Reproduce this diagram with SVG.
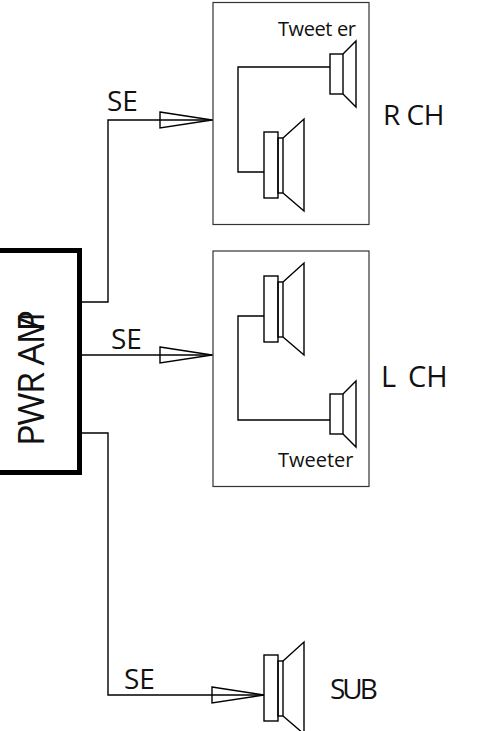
<svg xmlns="http://www.w3.org/2000/svg" xmlns:xlink="http://www.w3.org/1999/xlink" width="493" height="731" viewBox="0 0 493 731">
<style>
.l{fill:none;stroke:#000;stroke-width:1.4;stroke-linejoin:miter}
.b{fill:none;stroke:#333;stroke-width:1.2}
text{font-family:"Open Sans","Noto Sans","Liberation Sans",sans-serif;fill:#111}
.t{font-size:28px}
.s{font-size:20px}
</style>
<defs>
<g id="woofer" class="l"><rect x="264" y="-33" width="14" height="66"/><rect x="278" y="-27" width="5" height="55"/><path d="M283-27 304-46V46L283 28"/></g>
<g id="tweeter" class="l"><rect x="330" y="-20" width="13" height="40"/><path d="M343-20 356-33V33L343 20"/></g>
<path id="arrow" class="l" d="M0-8 52 0 0 8Z"/>
</defs>
<g id="connectors">
<path class="l" d="M82 302H108V120H213"/>
<path class="l" d="M82 355H213"/>
<path class="l" d="M82 433H108V695H264"/>
<path class="l" d="M330 67H238V172H264"/>
<path class="l" d="M264 316H238V420H330"/>
<use xlink:href="#arrow" href="#arrow" x="160" y="120"/>
<use xlink:href="#arrow" href="#arrow" x="160" y="355"/>
<use xlink:href="#arrow" href="#arrow" x="212" y="695"/>
</g>
<g id="amp"><rect x="-20" y="250.500" width="99.500" height="222" fill="none" stroke="#000" stroke-width="5"/>
<text transform="translate(44,446) rotate(-90)" style="font-size:36px;letter-spacing:-1.5px">PWR AM<tspan dx="-18">P</tspan></text></g>
<g id="r-ch"><rect class="b" x="213" y="2.500" width="156" height="222"/>
<use xlink:href="#woofer" href="#woofer" y="165"/><use xlink:href="#tweeter" href="#tweeter" y="74"/>
<text class="s" x="278" y="36" style="letter-spacing:-.4px">Tweet er</text></g>
<g id="l-ch"><rect class="b" x="213" y="251" width="156" height="235.500"/>
<use xlink:href="#woofer" href="#woofer" y="309"/><use xlink:href="#tweeter" href="#tweeter" y="414"/>
<text class="s" x="278" y="467">Tweeter</text></g>
<g id="sub"><use xlink:href="#woofer" href="#woofer" y="688"/></g>
<g id="labels">
<text class="t" x="383" y="125" style="letter-spacing:-.5px">R CH</text>
<text class="t" x="381" y="387" style="font-size:29px">L <tspan x="408">CH</tspan></text>
<text class="t" x="330" y="699" style="letter-spacing:-3px">SUB</text>
<text class="t" x="107" y="111">SE</text>
<text class="t" x="111" y="349">SE</text>
<text class="t" x="124" y="689">SE</text>
</g>
</svg>
